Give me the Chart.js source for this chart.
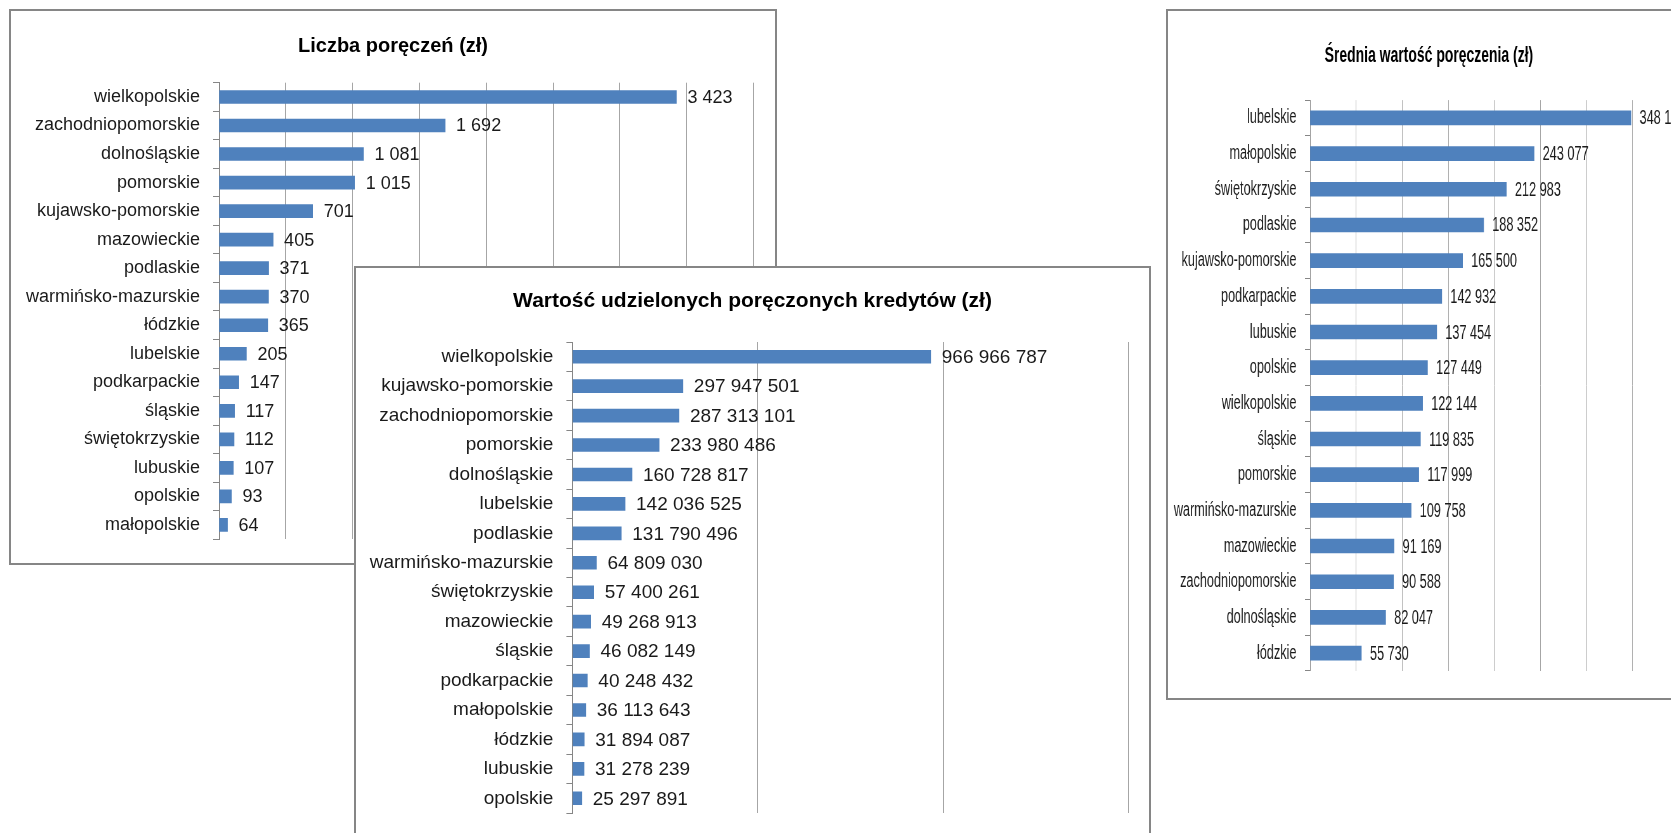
<!DOCTYPE html>
<html>
<head>
<meta charset="utf-8">
<script src="https://cdn.jsdelivr.net/npm/chart.js@4.4.1/dist/chart.umd.min.js"></script>
<style>
  html, body { margin: 0; padding: 0; background: #fff; width: 1671px; height: 833px; overflow: hidden; position: relative; }
  .panel { position: absolute; border: 2px solid #868686; background: #fff; overflow: hidden; }
  #p1 { left: 9px; top: 9px; width: 764px; height: 552px; }
  #p2 { left: 354px; top: 266px; width: 793px; height: 596px; }
  #p3 { left: 1166px; top: 9px; width: 522px; height: 687px; }
  .squeeze { transform: scaleX(0.634); transform-origin: 0 0; }
  canvas { display: block; }
</style>
</head>
<body>
<div class="panel" id="p1"><canvas id="c1" width="764" height="552"></canvas></div>
<div class="panel" id="p2"><canvas id="c2" width="793" height="596"></canvas></div>
<div class="panel" id="p3"><div class="squeeze"><canvas id="c3" width="823" height="687"></canvas></div></div>
<script>
// ── Data ──
const CAT_LICZBA = ["wielkopolskie", "zachodniopomorskie", "dolnośląskie", "pomorskie", "kujawsko-pomorskie",
  "mazowieckie", "podlaskie", "warmińsko-mazurskie", "łódzkie", "lubelskie", "podkarpackie", "śląskie",
  "świętokrzyskie", "lubuskie", "opolskie", "małopolskie"];
const VAL_LICZBA = [3423, 1692, 1081, 1015, 701, 405, 371, 370, 365, 205, 147, 117, 112, 107, 93, 64];

const CAT_WARTOSC = ["wielkopolskie", "kujawsko-pomorskie", "zachodniopomorskie", "pomorskie", "dolnośląskie",
  "lubelskie", "podlaskie", "warmińsko-mazurskie", "świętokrzyskie", "mazowieckie", "śląskie", "podkarpackie",
  "małopolskie", "łódzkie", "lubuskie", "opolskie"];
const VAL_WARTOSC = [966966787, 297947501, 287313101, 233980486, 160728817, 142036525, 131790496, 64809030,
  57400261, 49268913, 46082149, 40248432, 36113643, 31894087, 31278239, 25297891];

const CAT_SREDNIA = ["lubelskie", "małopolskie", "świętokrzyskie", "podlaskie", "kujawsko-pomorskie", "podkarpackie",
  "lubuskie", "opolskie", "wielkopolskie", "śląskie", "pomorskie", "warmińsko-mazurskie", "mazowieckie",
  "zachodniopomorskie", "dolnośląskie", "łódzkie"];
const VAL_SREDNIA = [348140, 243077, 212983, 188352, 165500, 142932, 137454, 127449, 122144, 119835, 117999,
  109758, 91169, 90588, 82047, 55730];

const FONT = "'Liberation Sans', Arial, sans-serif";
const fmt = (n) => String(n).replace(/\B(?=(\d{3})+(?!\d))/g, " ");

// value labels to the right of each bar
const valueLabels = {
  id: "valueLabels",
  afterDatasetsDraw(chart, args, opts) {
    const ctx = chart.ctx;
    const vals = chart.data.datasets[0].data;
    ctx.save();
    ctx.font = `${opts.size}px ${FONT}`;
    ctx.fillStyle = "#1a1a1a";
    ctx.textAlign = "left";
    ctx.textBaseline = "middle";
    chart.getDatasetMeta(0).data.forEach((bar, i) => {
      ctx.fillText(fmt(vals[i]), bar.x + opts.offset, bar.y + 1);
    });
    ctx.restore();
  },
};

// title centred on the whole panel
const panelTitle = {
  id: "panelTitle",
  afterDraw(chart, args, opts) {
    const ctx = chart.ctx;
    ctx.save();
    ctx.font = `bold ${opts.size}px ${FONT}`;
    ctx.fillStyle = "#000";
    ctx.textAlign = "center";
    ctx.textBaseline = "middle";
    ctx.fillText(opts.text, chart.width / 2, opts.y);
    ctx.restore();
  },
};

function makeChart(id, cats, vals, o) {
  return new Chart(document.getElementById(id), {
    type: "bar",
    data: {
      labels: cats,
      datasets: [{ data: vals, backgroundColor: "#4F81BD", barThickness: o.bar }],
    },
    options: {
      indexAxis: "y",
      responsive: false,
      animation: false,
      layout: { padding: { top: o.padT, left: 0, right: o.padR, bottom: o.padB } },
      plugins: {
        legend: { display: false },
        tooltip: { enabled: false },
        title: { display: false },
        panelTitle: { text: o.title, size: o.titleSize, y: o.titleY },
        valueLabels: { size: o.labelSize, offset: o.offset },
      },
      scales: {
        x: {
          min: 0,
          max: o.max,
          ticks: { display: false, stepSize: o.step },
          grid: { color: "#a6a6a6", drawTicks: false },
          border: { display: false },
        },
        y: {
          afterFit: (s) => { s.width = o.axisX; },
          ticks: { color: "#1a1a1a", autoSkip: false, padding: o.tickPad, font: { family: FONT, size: o.labelSize } },
          grid: { drawOnChartArea: false, tickLength: o.tickLen, color: "#868686" },
          border: { color: "#868686" },
        },
      },
    },
    plugins: [valueLabels, panelTitle],
  });
}

makeChart("c1", CAT_LICZBA, VAL_LICZBA, {
  title: "Liczba poręczeń (zł)", titleSize: 20, titleY: 35.5,
  padT: 71.7, padR: 21.5, padB: 21.2, axisX: 208, labelSize: 18, offset: 11, tickLen: 6, tickPad: 13,
  bar: 13, max: 4000, step: 500,
});

makeChart("c2", CAT_WARTOSC, VAL_WARTOSC, {
  title: "Wartość udzielonych poręczonych kredytów (zł)", titleSize: 21, titleY: 33.5,
  padT: 74, padR: 20.7, padB: 51, axisX: 216.4, labelSize: 19, offset: 11, tickLen: 6, tickPad: 13,
  bar: 13, max: 1500000000, step: 500000000,
});

makeChart("c3", CAT_SREDNIA, VAL_SREDNIA, {
  title: "Średnia wartość poręczenia (zł)", titleSize: 22, titleY: 44.5,
  padT: 89.1, padR: 17.3, padB: 27.1, axisX: 224, labelSize: 20, offset: 13.5, tickLen: 8, tickPad: 13.5,
  bar: 14, max: 400000, step: 50000,
});
</script>
</body>
</html>
